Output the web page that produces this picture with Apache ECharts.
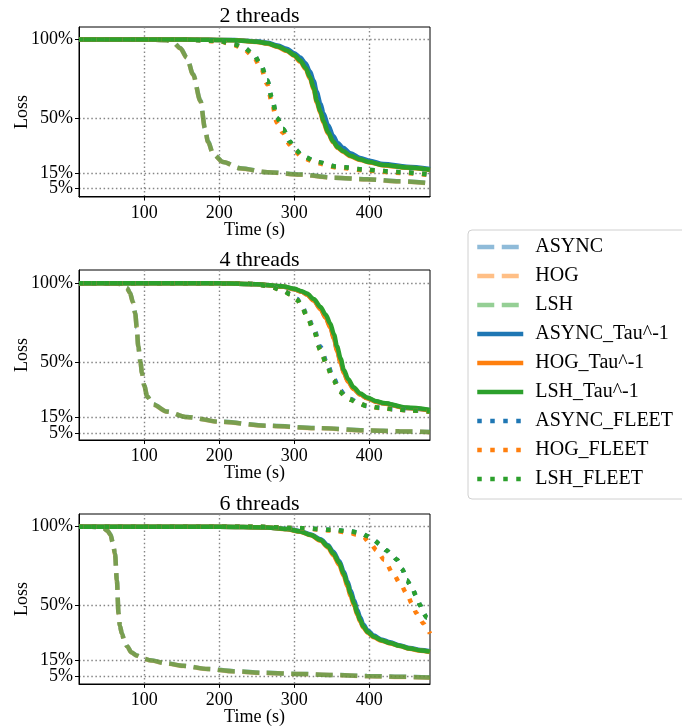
<!DOCTYPE html>
<html>
<head>
<meta charset="utf-8">
<script src="https://cdn.jsdelivr.net/npm/echarts@6/dist/echarts.min.js"></script>
<style>html,body{margin:0;padding:0;background:#fff;}#c{width:682px;height:726px;}</style>
</head>
<body>
<div id="c"></div>
<script>
// ---- Data ----
const panelTitles = ['2 threads', '4 threads', '6 threads'];
const xTicks = [100, 200, 300, 400];
const yTicks = [0.05, 0.15, 0.5, 1.0];
const seriesNames = ['ASYNC','HOG','LSH','ASYNC_Tau^-1','HOG_Tau^-1','LSH_Tau^-1','ASYNC_FLEET','HOG_FLEET','LSH_FLEET'];

// 2 threads
const t2_dash = [13,100,130,139,148,157,165,175,181,185,192,205,228,264,308,352,397,440,481];
const y2_async = [1.0,1.0,0.995,0.98,0.945,0.885,0.78,0.61,0.435,0.35,0.27,0.22,0.18,0.155,0.14,0.12,0.11,0.097,0.085];
const y2_hog   = [1.0,1.0,0.995,0.979,0.943,0.882,0.776,0.605,0.43,0.347,0.268,0.219,0.179,0.154,0.139,0.119,0.109,0.096,0.084];
const y2_lsh   = [1.0,1.0,0.995,0.98,0.944,0.884,0.778,0.608,0.433,0.349,0.269,0.22,0.18,0.155,0.14,0.12,0.11,0.097,0.085];
const t2_tau = [13,150,220,250,264,278,290,300,308,315,321,326,330,335,339,345,352,358,365,375,388,400,419,450,481];
const y2_async_tau = [1.0,1.0,0.996,0.988,0.979,0.962,0.94,0.912,0.885,0.848,0.795,0.735,0.665,0.59,0.53,0.455,0.385,0.34,0.31,0.275,0.245,0.228,0.207,0.19,0.175];
const y2_hog_tau   = [1.0,1.0,0.995,0.984,0.973,0.952,0.926,0.895,0.858,0.812,0.75,0.68,0.6,0.53,0.47,0.402,0.345,0.31,0.285,0.256,0.232,0.217,0.198,0.183,0.168];
const y2_lsh_tau   = [1.0,1.0,0.995,0.985,0.975,0.955,0.93,0.9,0.865,0.82,0.76,0.69,0.61,0.54,0.48,0.41,0.35,0.315,0.29,0.26,0.235,0.22,0.2,0.185,0.17];
const t2_fleet = [13,150,200,219,232,245,255,264,270,277,285,294,301,312,330,357,397,441,481];
const y2_async_fleet = [1.0,1.0,0.99,0.97,0.95,0.91,0.845,0.74,0.63,0.5,0.43,0.35,0.30,0.255,0.22,0.19,0.17,0.155,0.14];
const y2_hog_fleet   = [1.0,1.0,0.988,0.965,0.94,0.895,0.825,0.715,0.6,0.47,0.405,0.33,0.285,0.245,0.212,0.185,0.165,0.15,0.137];
const y2_lsh_fleet   = [1.0,1.0,0.99,0.97,0.95,0.91,0.845,0.74,0.63,0.5,0.43,0.35,0.30,0.255,0.22,0.19,0.17,0.155,0.14];

// 4 threads
const t4_dash = [13,50,65,72,77,81,85,88,90,92,95,97,100,104,112,130,157,201,264,330,397,440,481];
const y4_async = [1.0,1.0,0.998,0.99,0.97,0.94,0.88,0.81,0.72,0.6,0.5,0.43,0.35,0.28,0.23,0.185,0.15,0.12,0.095,0.08,0.065,0.06,0.055];
const y4_hog   = [1.0,1.0,0.998,0.99,0.969,0.938,0.877,0.806,0.716,0.597,0.497,0.428,0.349,0.279,0.229,0.184,0.149,0.119,0.094,0.079,0.064,0.059,0.054];
const y4_lsh   = [1.0,1.0,0.998,0.99,0.97,0.94,0.879,0.808,0.718,0.598,0.498,0.429,0.35,0.28,0.23,0.185,0.15,0.12,0.095,0.08,0.065,0.06,0.055];
const t4_tau = [13,200,250,286,300,310,317,326,335,342,348,353,357,362,366,372,379,388,397,410,419,450,481];
const y4_async_tau = [1.0,1.0,0.995,0.979,0.963,0.947,0.93,0.893,0.84,0.785,0.728,0.655,0.58,0.5,0.435,0.378,0.332,0.295,0.271,0.247,0.237,0.208,0.193];
const y4_hog_tau   = [1.0,1.0,0.995,0.978,0.962,0.946,0.928,0.89,0.835,0.78,0.72,0.648,0.572,0.493,0.43,0.374,0.329,0.293,0.27,0.246,0.236,0.207,0.192];
const y4_lsh_tau   = [1.0,1.0,0.995,0.98,0.965,0.95,0.935,0.9,0.85,0.8,0.745,0.675,0.6,0.52,0.45,0.39,0.34,0.3,0.275,0.25,0.24,0.21,0.195];
const t4_fleet = [13,200,240,255,270,286,295,304,310,317,326,335,344,352,361,368,375,385,397,415,432,455,481];
const y4_async_fleet = [1.0,1.0,0.997,0.99,0.976,0.952,0.933,0.9,0.858,0.8,0.715,0.595,0.49,0.4,0.322,0.288,0.265,0.241,0.222,0.209,0.2,0.192,0.185];
const y4_hog_fleet   = [1.0,1.0,0.997,0.99,0.975,0.95,0.93,0.895,0.85,0.79,0.7,0.575,0.47,0.385,0.31,0.28,0.26,0.238,0.22,0.207,0.199,0.191,0.184];
const y4_lsh_fleet   = [1.0,1.0,0.997,0.99,0.975,0.95,0.93,0.895,0.85,0.79,0.7,0.575,0.47,0.385,0.31,0.28,0.26,0.238,0.22,0.208,0.2,0.192,0.185];

// 6 threads
const t6_dash = [13,30,40,46,51,55,58,61,63.5,65.7,67.5,70.2,73.5,77,83,90,100,108,130,152,185,219,260,308,350,397,440,481];
const y6_async = [1.0,1.0,0.997,0.99,0.975,0.95,0.9,0.83,0.66,0.45,0.37,0.32,0.275,0.24,0.2,0.18,0.16,0.15,0.13,0.115,0.095,0.08,0.07,0.063,0.057,0.05,0.045,0.04];
const y6_hog   = [1.0,1.0,0.997,0.99,0.974,0.948,0.897,0.826,0.655,0.447,0.368,0.318,0.274,0.239,0.199,0.179,0.159,0.149,0.129,0.114,0.094,0.079,0.069,0.062,0.056,0.049,0.044,0.039];
const y6_lsh   = [1.0,1.0,0.997,0.99,0.975,0.95,0.9,0.83,0.66,0.45,0.37,0.32,0.275,0.24,0.2,0.18,0.16,0.15,0.13,0.115,0.095,0.08,0.07,0.063,0.057,0.05,0.045,0.04];
const t6_tau = [13,200,264,290,308,322,335,345,352,360,366,371,375,380,384,388,392,398,406,416,428,440,454,468,481];
const y6_async_tau = [1.0,1.0,0.995,0.986,0.972,0.951,0.92,0.882,0.84,0.782,0.715,0.652,0.595,0.53,0.47,0.422,0.378,0.34,0.307,0.283,0.264,0.246,0.228,0.215,0.207];
const y6_hog_tau   = [1.0,1.0,0.995,0.984,0.968,0.945,0.91,0.868,0.82,0.757,0.687,0.62,0.56,0.497,0.44,0.396,0.358,0.325,0.296,0.275,0.257,0.241,0.223,0.211,0.203];
const y6_lsh_tau   = [1.0,1.0,0.995,0.985,0.97,0.948,0.915,0.875,0.83,0.77,0.7,0.635,0.575,0.51,0.45,0.405,0.365,0.33,0.3,0.278,0.26,0.243,0.225,0.213,0.205];
const t6_fleet = [13,250,308,352,375,388,398,406,415,423,430,437,444,450,457,463,468,472,477,481];
const y6_async_fleet = [1.0,1.0,0.99,0.98,0.97,0.96,0.94,0.915,0.885,0.85,0.82,0.79,0.73,0.66,0.61,0.555,0.5,0.45,0.42,0.385];
const y6_lsh_fleet   = [1.0,1.0,0.99,0.98,0.97,0.96,0.94,0.915,0.885,0.85,0.82,0.79,0.73,0.66,0.61,0.555,0.5,0.45,0.42,0.385];
const t6_hog_fleet = [13,250,308,352,375,383,392,401,410,420,432,441,450,457,463,468,472,477,481];
const y6_hog_fleet = [1.0,1.0,0.99,0.975,0.96,0.95,0.935,0.895,0.85,0.79,0.70,0.64,0.575,0.51,0.45,0.41,0.385,0.35,0.32];

// ---- Build chart ----
const FONT = '"Liberation Serif", "DejaVu Serif", serif';
const colors = ['#1f77b4', '#ff7f0e', '#2ca02c'];
const LW = 4.5;
const styles = {
  dash: {type: [17, 7.5], opacity: 0.5},
  tau: {type: 'solid', opacity: 1},
  fleet: {type: [4.5, 8.5], opacity: 1}
};
const panels = [
  {dash: [t2_dash, [y2_async, y2_hog, y2_lsh]], tau: [t2_tau, [y2_async_tau, y2_hog_tau, y2_lsh_tau]], fleet: [[t2_fleet, t2_fleet, t2_fleet], [y2_async_fleet, y2_hog_fleet, y2_lsh_fleet]]},
  {dash: [t4_dash, [y4_async, y4_hog, y4_lsh]], tau: [t4_tau, [y4_async_tau, y4_hog_tau, y4_lsh_tau]], fleet: [[t4_fleet, t4_fleet, t4_fleet], [y4_async_fleet, y4_hog_fleet, y4_lsh_fleet]]},
  {dash: [t6_dash, [y6_async, y6_hog, y6_lsh]], tau: [t6_tau, [y6_async_tau, y6_hog_tau, y6_lsh_tau]], fleet: [[t6_fleet, t6_hog_fleet, t6_fleet], [y6_async_fleet, y6_hog_fleet, y6_lsh_fleet]]}
];
const gridTops = [27, 270, 514];
const gridH = 170;
const yRanges = [[-0.003, 1.079], [0.004, 1.085], [-0.001, 1.081]];
const titleTops = [0, 244, 488];
// tick labels split over two overlaid axes so the close 5%/15% labels are both kept
const yTicksA = yTicks.filter((v, i) => i % 2 === 0);
const yTicksB = yTicks.filter((v, i) => i % 2 === 1);

function pairs(xs, ys) { return xs.map((x, i) => [x, ys[i]]); }

const grids = [], xAxes = [], yAxes = [], titles = [], series = [];
const gridLine = {show: true, lineStyle: {color: '#858585', width: 1.4, type: [1.5, 2.6]}};
const labelStyle = {fontFamily: FONT, fontSize: 18, color: '#000', margin: 6, hideOverlap: false,
  showMinLabel: true, showMaxLabel: true, formatter: v => Math.round(v * 100) + '%'};
panels.forEach((p, g) => {
  grids.push({left: 79, top: gridTops[g], width: 351, height: gridH, show: true, borderColor: '#000', borderWidth: 1,
    backgroundColor: 'transparent', containLabel: false, outerBoundsMode: 'none'});
  titles.push({text: panelTitles[g], left: 254.5, top: titleTops[g], textAlign: 'center',
    textStyle: {fontFamily: FONT, fontSize: 22, fontWeight: 'normal', color: '#000'}});
  xAxes.push({type: 'value', gridIndex: g, min: 13, max: 481,
    name: 'Time (s)', nameLocation: 'middle', nameGap: 24, nameMoveOverlap: false,
    nameTextStyle: {fontFamily: FONT, fontSize: 18, color: '#000'},
    axisLine: {show: true, lineStyle: {color: '#000', width: 1}},
    axisTick: {show: true, length: 4, customValues: xTicks, lineStyle: {color: '#000'}},
    axisLabel: {customValues: xTicks, fontFamily: FONT, fontSize: 18, color: '#000', margin: 7, hideOverlap: false,
      showMinLabel: true, showMaxLabel: true},
    splitLine: gridLine});
  yAxes.push({type: 'value', gridIndex: g, position: 'left', min: yRanges[g][0], max: yRanges[g][1],
    name: 'Loss', nameLocation: 'middle', nameGap: 48, nameRotate: 90, nameMoveOverlap: false,
    nameTextStyle: {fontFamily: FONT, fontSize: 18, color: '#000'},
    axisLine: {show: true, lineStyle: {color: '#000', width: 1}},
    axisTick: {show: true, length: 4, customValues: yTicks, lineStyle: {color: '#000'}},
    axisLabel: Object.assign({customValues: yTicksA}, labelStyle),
    splitLine: gridLine});
  yAxes.push({type: 'value', gridIndex: g, position: 'left', min: yRanges[g][0], max: yRanges[g][1],
    axisLine: {show: false}, axisTick: {show: false, customValues: yTicksB},
    axisLabel: Object.assign({customValues: yTicksB}, labelStyle),
    splitLine: {show: false}});
  const groups = [['dash', 0], ['tau', 3], ['fleet', 6]];
  groups.forEach(([key, off]) => {
    for (let k = 0; k < 3; k++) {
      const xs = key === 'fleet' ? p[key][0][k] : p[key][0];
      const ys = p[key][1][k];
      series.push({
        name: seriesNames[off + k], type: 'line', xAxisIndex: g, yAxisIndex: 2 * g,
        data: pairs(xs, ys), symbol: 'none', smooth: 0.3, smoothMonotone: 'x',
        animation: false, z: 2 + off + k,
        lineStyle: {color: colors[k], width: LW, type: styles[key].type, opacity: styles[key].opacity, cap: 'butt'},
        itemStyle: {color: colors[k], opacity: styles[key].opacity}
      });
    }
  });
});

const chart = echarts.init(document.getElementById('c'), null, {renderer: 'canvas'});
chart.setOption({
  animation: false,
  backgroundColor: '#fff',
  title: titles,
  grid: grids,
  xAxis: xAxes,
  yAxis: yAxes,
  legend: {
    data: seriesNames, orient: 'vertical', left: 468, top: 230,
    padding: [7, 40, 10, 7], itemWidth: 46, itemHeight: 14, itemGap: 9,
    borderColor: '#d0d0d0', borderWidth: 1, borderRadius: 4, backgroundColor: '#fff',
    lineStyle: {width: 4.5},
    itemStyle: {opacity: 0, borderWidth: 0},
    textStyle: {fontFamily: FONT, fontSize: 20, color: '#000', lineHeight: 20, padding: [0, 0, 0, 7]},
    selectedMode: false
  },
  series: series
});
</script>
</body>
</html>
